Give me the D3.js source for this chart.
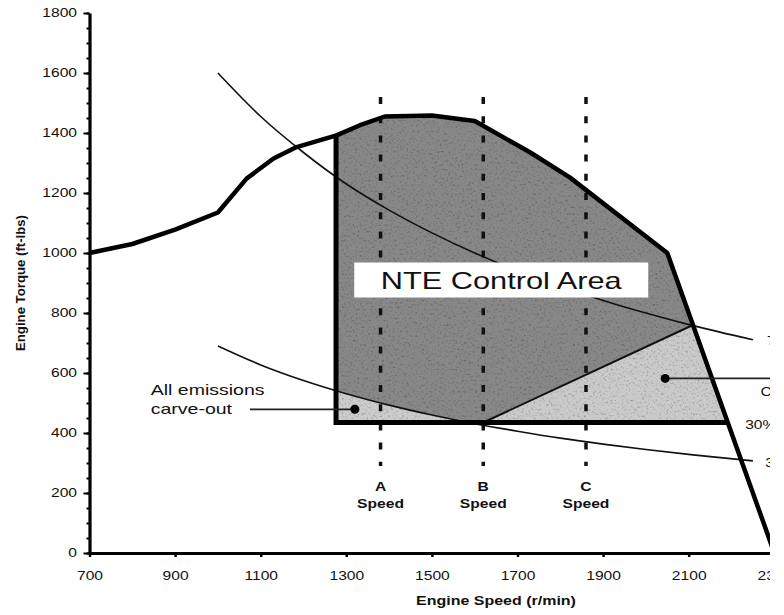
<!DOCTYPE html>
<html><head><meta charset="utf-8">
<script src="https://cdn.jsdelivr.net/npm/d3@7"></script>
<style>
body{margin:0;background:#fff}
svg{display:block}
text{font-family:"Liberation Sans",Arial,Helvetica,sans-serif;fill:#111}
</style>
</head><body>
<svg id="chart" width="784" height="615"></svg>
<script>
// ---------------- data ----------------
const lugSpeed  = [700, 800, 900, 1000, 1067, 1130, 1184, 1277, 1332, 1390, 1500, 1600, 1730, 1822, 2050, 2300];
const lugTorque = [1000,1030,1078,1135, 1248, 1315, 1353, 1392, 1426, 1455, 1458, 1440, 1335, 1252, 1000, 0];

const powerSpeed    = [1000,1100,1200,1300,1400,1500,1600,1700,1800,1900,2000,2110,2250];
const power70Torque = [1600,1455,1335,1230,1143,1067,1000, 941, 889, 842, 800, 758, 711];
const power30Torque = [ 690, 627, 575, 531, 493, 460, 431, 406, 383, 363, 345, 327, 307];

const nteMinSpeed = 1276;
const nteMinTorque = 435;
const regionCApex = [2110, 760];

const modeSpeeds = [1380, 1620, 1860];
const modeLabels = ["A", "B", "C"];
const modeTorqueTop = 1520, modeTorqueBottom = 290;

const xTicks = [700, 900, 1100, 1300, 1500, 1700, 1900, 2100, 2300];
const yTicks = [0, 200, 400, 600, 800, 1000, 1200, 1400, 1600, 1800];
const yMinorTicks = d3.range(0, 1801, 50);

const carveOutDot = [1320, 479];
const carveOutLineStart = 1075;
const regionCDot = [2045, 582];

// ---------------- scales ----------------
const svg = d3.select("#chart");
const x = d3.scaleLinear().domain([700, 2300]).range([89.5, 774.3]);
const y = d3.scaleLinear().domain([0, 1800]).range([553, 13]);

const defs = svg.append("defs");
defs.append("clipPath").attr("id", "clip").append("rect")
  .attr("x", 0).attr("y", 0).attr("width", 770).attr("height", 615);
const f = defs.append("filter").attr("id", "grain").attr("x", 0).attr("y", 0).attr("width", "100%").attr("height", "100%");
f.append("feTurbulence").attr("type", "fractalNoise").attr("baseFrequency", 0.45).attr("numOctaves", 3).attr("seed", 7).attr("result", "n");
f.append("feColorMatrix").attr("in", "n").attr("type", "matrix")
  .attr("values", "1 0 0 0 0  1 0 0 0 0  1 0 0 0 0  0 0 0 0 1").attr("result", "g");
const ct = f.append("feComponentTransfer").attr("in", "g").attr("result", "g2");
["feFuncR","feFuncG","feFuncB"].forEach(fn => ct.append(fn).attr("type","linear").attr("slope",1.3).attr("intercept",0.38));
f.append("feBlend").attr("in", "SourceGraphic").attr("in2", "g2").attr("mode", "multiply").attr("result", "b");
f.append("feComposite").attr("in", "b").attr("in2", "SourceGraphic").attr("operator", "in");

const g = svg.append("g").attr("clip-path", "url(#clip)");

// ---------------- helpers ----------------
function interp(xs, ys, v) {
  for (let i = 0; i < xs.length - 1; i++) {
    if (v >= xs[i] && v <= xs[i + 1]) {
      const t = (v - xs[i]) / (xs[i + 1] - xs[i]);
      return ys[i] + t * (ys[i + 1] - ys[i]);
    }
  }
  return NaN;
}
function crossing(xs, ys, level) { // last descending crossing
  for (let i = xs.length - 2; i >= 0; i--) {
    if (ys[i] >= level && ys[i + 1] < level) {
      return xs[i] + (ys[i] - level) / (ys[i] - ys[i + 1]) * (xs[i + 1] - xs[i]);
    }
  }
  return NaN;
}
const lugAt = s => interp(lugSpeed, lugTorque, s);
const p30At = s => interp(powerSpeed, power30Torque, s);
const lugPts = lugSpeed.map((s, i) => [s, lugTorque[i]]);
const line = d3.line().x(d => x(d[0])).y(d => y(d[1]));
const smooth = d3.line().x(d => x(d[0])).y(d => y(d[1])).curve(d3.curveMonotoneX);

const nteMaxSpeed = crossing(lugSpeed, lugTorque, nteMinTorque);
const p30Cross = crossing(powerSpeed, power30Torque, nteMinTorque);

// ---------------- fills ----------------
const ntePoly = [[nteMinSpeed, nteMinTorque], [nteMinSpeed, lugAt(nteMinSpeed)]]
  .concat(lugPts.filter(p => p[0] > nteMinSpeed && p[0] < nteMaxSpeed))
  .concat([[nteMaxSpeed, nteMinTorque]]);
g.append("path").attr("d", line(ntePoly) + "Z").attr("fill", "#888888").attr("filter", "url(#grain)");

const carvePoly = [[nteMinSpeed, nteMinTorque], [nteMinSpeed, p30At(nteMinSpeed)]]
  .concat(powerSpeed.map((s, i) => [s, power30Torque[i]]).filter(p => p[0] > nteMinSpeed && p[0] < p30Cross))
  .concat([[p30Cross, nteMinTorque]]);
g.append("path").attr("d", line(carvePoly) + "Z").attr("fill", "#cccccc").attr("filter", "url(#grain)");

const cPoly = [[modeSpeeds[1], nteMinTorque], regionCApex]
  .concat(lugPts.filter(p => p[0] > regionCApex[0] && p[0] < nteMaxSpeed))
  .concat([[nteMaxSpeed, nteMinTorque]]);
g.append("path").attr("d", line(cPoly) + "Z").attr("fill", "#cacaca").attr("filter", "url(#grain)");

// ---------------- thin curves ----------------
g.append("path").attr("d", smooth(powerSpeed.map((s, i) => [s, power70Torque[i]])))
  .attr("fill", "none").attr("stroke", "#111").attr("stroke-width", 1.6);
g.append("path").attr("d", smooth(powerSpeed.map((s, i) => [s, power30Torque[i]])))
  .attr("fill", "none").attr("stroke", "#111").attr("stroke-width", 1.6);
g.append("path").attr("d", line([[modeSpeeds[1], nteMinTorque], regionCApex]))
  .attr("fill", "none").attr("stroke", "#111").attr("stroke-width", 2);

// ---------------- mode speed dashed lines ----------------
modeSpeeds.forEach((s, i) => {
  g.append("line").attr("x1", x(s)).attr("x2", x(s))
    .attr("y1", y(modeTorqueTop)).attr("y2", y(modeTorqueBottom))
    .attr("stroke", "#111").attr("stroke-width", 3.5).attr("stroke-dasharray", "7,12.2");
  g.append("text").attr("class", "st").attr("data-k", 1.3).attr("x", x(s)).attr("y", y(modeTorqueBottom) + 25)
    .attr("text-anchor", "middle").attr("font-weight", "bold").attr("font-size", 12).text(modeLabels[i]);
  g.append("text").attr("class", "st").attr("data-k", 1.3).attr("x", x(s)).attr("y", y(modeTorqueBottom) + 42)
    .attr("text-anchor", "middle").attr("font-weight", "bold").attr("font-size", 12).text("Speed");
});

// ---------------- lug curve & NTE boundary ----------------
g.append("path").attr("d", line(lugPts)).attr("fill", "none").attr("stroke", "#000")
  .attr("stroke-width", 4.5).attr("stroke-linejoin", "round");
g.append("path").attr("d", line([[nteMinSpeed, lugAt(nteMinSpeed)], [nteMinSpeed, nteMinTorque], [nteMaxSpeed, nteMinTorque]]))
  .attr("fill", "none").attr("stroke", "#000").attr("stroke-width", 5).attr("stroke-linejoin", "miter");

// ---------------- leaders & dots ----------------
g.append("line").attr("x1", x(carveOutLineStart)).attr("x2", x(carveOutDot[0]))
  .attr("y1", y(carveOutDot[1])).attr("y2", y(carveOutDot[1])).attr("stroke", "#222").attr("stroke-width", 1.8);
g.append("circle").attr("cx", x(carveOutDot[0])).attr("cy", y(carveOutDot[1])).attr("r", 4.5).attr("fill", "#000");
g.append("line").attr("x1", x(regionCDot[0])).attr("x2", 800)
  .attr("y1", y(regionCDot[1])).attr("y2", y(regionCDot[1])).attr("stroke", "#222").attr("stroke-width", 1.6);
g.append("circle").attr("cx", x(regionCDot[0])).attr("cy", y(regionCDot[1])).attr("r", 4.5).attr("fill", "#000");

// ---------------- NTE label ----------------
const boxCx = x(1662), boxCy = y(910);
g.append("rect").attr("x", boxCx - 147).attr("y", boxCy - 17.5).attr("width", 294).attr("height", 35)
  .attr("fill", "#fff");
g.append("text").attr("class", "st").attr("data-k", 1.28).attr("x", boxCx).attr("y", boxCy + 8.5)
  .attr("text-anchor", "middle").attr("font-size", 24).text("NTE Control Area");

// ---------------- annotations ----------------
g.append("text").attr("class", "st").attr("data-k", 1.3).attr("x", x(843)).attr("y", y(527))
  .attr("font-size", 15).text("All emissions");
g.append("text").attr("class", "st").attr("data-k", 1.3).attr("x", x(843)).attr("y", y(463))
  .attr("font-size", 15).text("carve-out");
// labels at the right edge, cut off by the frame as in the reference
g.append("text").attr("class", "st").attr("data-k", 1.3).attr("x", x(2283)).attr("y", y(692))
  .attr("font-size", 12).text("7");
g.append("text").attr("class", "st").attr("data-k", 1.3).attr("x", x(2268)).attr("y", y(523))
  .attr("font-size", 12).text("C");
g.append("text").attr("class", "st").attr("data-k", 1.3).attr("x", x(2232)).attr("y", y(413))
  .attr("font-size", 12).text("30%");
g.append("text").attr("class", "st").attr("data-k", 1.3).attr("x", x(2279)).attr("y", y(286))
  .attr("font-size", 12).text("3");

// ---------------- axes ----------------
const fmt = d3.format("d");
const yMinor = g.append("g").attr("transform", `translate(${x(700)},0)`)
  .call(d3.axisLeft(y).tickValues(yMinorTicks).tickSize(3).tickFormat(""));
yMinor.select(".domain").remove();
yMinor.selectAll("line").attr("stroke", "#000").attr("stroke-width", 2);

const yAxis = g.append("g").attr("transform", `translate(${x(700)},0)`)
  .call(d3.axisLeft(y).tickValues(yTicks).tickFormat(fmt).tickSize(6).tickSizeOuter(0).tickPadding(6.5));
yAxis.select(".domain").attr("stroke", "#000").attr("stroke-width", 3.2);
yAxis.selectAll(".tick line").attr("stroke", "#000").attr("stroke-width", 2);
yAxis.selectAll(".tick text").attr("class", "st").attr("data-k", 1.3)
  .attr("font-size", 12).attr("font-family", "Liberation Sans, Arial, sans-serif").attr("fill", "#111");

const xAxis = g.append("g").attr("transform", `translate(0,${y(0)})`)
  .call(d3.axisBottom(x).tickValues(xTicks).tickFormat(fmt).tickSize(4).tickSizeOuter(0).tickPadding(14));
xAxis.select(".domain").attr("stroke", "#000").attr("stroke-width", 3.2);
xAxis.selectAll(".tick line").attr("stroke", "#000").attr("stroke-width", 2.5);
xAxis.selectAll(".tick text").attr("class", "st").attr("data-k", 1.3)
  .attr("font-size", 12).attr("font-family", "Liberation Sans, Arial, sans-serif").attr("fill", "#111");

g.append("text").attr("class", "st").attr("data-k", 1.3).attr("x", 496).attr("y", 605)
  .attr("text-anchor", "middle").attr("font-weight", "bold").attr("font-size", 12.3).text("Engine Speed (r/min)");
g.append("text").attr("transform", "translate(25,283) rotate(-90)")
  .attr("text-anchor", "middle").attr("font-weight", "bold").attr("font-size", 13.2).text("Engine Torque (ft-lbs)");

// horizontal stretch of text as in the reference
svg.selectAll("text.st").each(function () {
  const k = +this.getAttribute("data-k") || 1.3;
  const w = this.getComputedTextLength();
  this.setAttribute("textLength", w * k);
  this.setAttribute("lengthAdjust", "spacingAndGlyphs");
});
</script>
</body></html>
